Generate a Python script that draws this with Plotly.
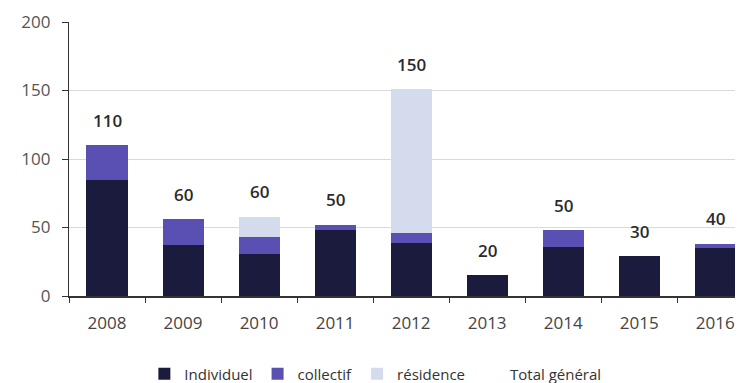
import plotly.graph_objects as go

years = ["2008", "2009", "2010", "2011", "2012", "2013", "2014", "2015", "2016"]
individuel = [85, 37, 31, 48, 39, 15, 36, 29, 35]
collectif = [25, 19, 12, 4, 7, 0, 12, 0, 3]
residence = [0, 0, 15, 0, 105, 0, 0, 0, 0]
total_labels = ["110", "60", "60", "50", "150", "20", "50", "30", "40"]

totals = [a + b + c for a, b, c in zip(individuel, collectif, residence)]

fig = go.Figure()

fig.add_trace(go.Bar(x=years, y=individuel, name="Individuel",
                     marker=dict(color="#1b1b3d", line=dict(width=0))))
fig.add_trace(go.Bar(x=years, y=collectif, name="collectif",
                     marker=dict(color="#5a50b4", line=dict(width=0))))
fig.add_trace(go.Bar(x=years, y=residence, name="résidence",
                     marker=dict(color="#d3dbec", line=dict(width=0))))
# total line is invisible, only its labels show
fig.add_trace(go.Scatter(x=years, y=totals, name="Total général", mode="lines",
                         line=dict(color="rgba(0,0,0,0)")))

for i, (tot, lab) in enumerate(zip(totals, total_labels)):
    fig.add_annotation(x=i, y=tot, text=lab, showarrow=False, yshift=25,
                       font=dict(size=17, color="#2b2b2b", family="Open Sans", weight=600))

# page body has an 8px margin, so the figure is sized 8px smaller
fig.update_layout(
    width=736, height=375,
    barmode="stack",
    bargap=0.46,
    plot_bgcolor="white",
    paper_bgcolor="white",
    margin=dict(l=61, r=9, t=14, b=87, autoexpand=False),
    font=dict(family="Open Sans", size=14, color="#444444"),
    legend=dict(orientation="h", x=0.46, xanchor="center", y=-0.285, yanchor="middle",
                font=dict(size=15, color="#333333"), traceorder="normal",
                itemwidth=30),
    showlegend=True,
)

fig.update_xaxes(
    type="category",
    range=[-0.5, 8.26],
    automargin=False,
    showline=True, linecolor="#333333", linewidth=1.5,
    ticks="outside", tickson="boundaries", ticklen=5, tickcolor="#333333",
    tickfont=dict(size=17, color="#444444"),
    ticklabelstandoff=11,
    showgrid=False,
)
fig.update_yaxes(
    range=[0, 200], tickvals=[0, 50, 100, 150, 200],
    automargin=False,
    showline=True, linecolor="#333333", linewidth=1.2,
    ticks="outside", ticklen=6, tickcolor="#333333",
    gridcolor="#d9d9d9", gridwidth=1,
    tickfont=dict(size=17, color="#555555"),
    ticklabelstandoff=8,
    zeroline=False,
)

fig.write_html("out.html")
